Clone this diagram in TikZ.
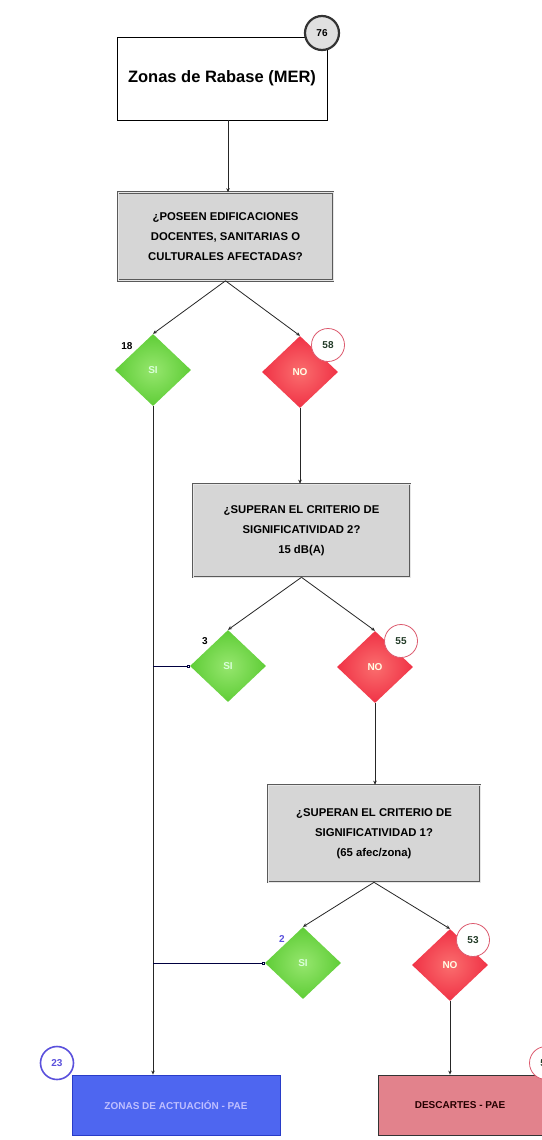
\documentclass[tikz,border=0pt]{standalone}
\usepackage{fontspec}
\setmainfont{Liberation Sans}
\usetikzlibrary{shapes.geometric,arrows.meta}
\definecolor{qgray}{RGB}{214,214,214}
\definecolor{qedge}{RGB}{90,90,90}
\definecolor{ygreen}{RGB}{95,205,55}
\definecolor{ygreenl}{RGB}{150,230,110}
\definecolor{nred}{RGB}{240,50,70}
\definecolor{nredl}{RGB}{250,110,110}
\definecolor{bbox}{RGB}{78,102,240}
\definecolor{bedge}{RGB}{40,60,200}
\definecolor{pbox}{RGB}{226,130,140}
\definecolor{cnum}{RGB}{35,60,40}
\definecolor{lblue}{RGB}{90,80,220}
\definecolor{ringred}{RGB}{220,90,110}
\begin{document}
\begin{tikzpicture}[x=1pt,y=-1pt,
  startbox/.style={draw=black,line width=0.8pt,fill=white,minimum width=210pt,minimum height=83pt,inner sep=0pt,font=\bfseries\fontsize{16.5}{18}\selectfont},
  qbox/.style={draw=qedge,double=qgray!60!white,double distance=1pt,line width=0.6pt,fill=qgray,minimum width=215pt,minimum height=88pt,inner sep=0pt,align=center,font=\bfseries\fontsize{11.3}{20}\selectfont},
  ydia/.style={diamond,draw=none,inner color=ygreenl,outer color=ygreen,minimum width=76pt,minimum height=72pt,inner sep=0pt,text=white!85!green,font=\bfseries\fontsize{10}{11}\selectfont},
  ndia/.style={diamond,draw=none,inner color=nredl,outer color=nred,minimum width=76pt,minimum height=72pt,inner sep=0pt,text=white!90!yellow,font=\bfseries\fontsize{10}{11}\selectfont},
  endbox/.style={draw=black!80,line width=0.8pt,minimum height=60pt,inner sep=0pt,font=\bfseries\fontsize{10}{11}\selectfont},
  cnt/.style={circle,fill=white,minimum size=33pt,inner sep=0pt,font=\bfseries\fontsize{10}{11}\selectfont},
  lbl/.style={inner sep=1pt,font=\bfseries\fontsize{10}{11}\selectfont},
  conn/.style={draw=black!85,line width=0.8pt,-{Stealth[length=4pt,width=3.5pt]}},
  joinc/.style={draw=black!75!blue,line width=0.8pt,{Square[open,length=3pt,width=3pt]}-}
]
\useasboundingbox (0,0) rectangle (541,1140);
\fill[white] (0,0) rectangle (541,1140);

% main boxes
\node[startbox] (mer) at (222,78.5) {Zonas de Rabase (MER)};
\node[qbox] (q1) at (225.5,236.5) {¿POSEEN EDIFICACIONES\\DOCENTES, SANITARIAS O\\CULTURALES AFECTADAS?};
\node[qbox,minimum width=217pt,minimum height=93pt] (q2) at (301.5,530.5) {¿SUPERAN EL CRITERIO DE\\SIGNIFICATIVIDAD 2?\\15 dB(A)};
\node[qbox,minimum width=212pt,minimum height=97pt] (q3) at (374,833.5) {¿SUPERAN EL CRITERIO DE\\SIGNIFICATIVIDAD 1?\\(65 afec/zona)};

% diamonds
\node[ydia] (y1) at (153,370) {SI};
\node[ndia] (n1) at (300,372) {NO};
\node[ydia] (y2) at (228,666) {SI};
\node[ndia] (n2) at (375,667) {NO};
\node[ydia] (y3) at (303,963) {SI};
\node[ndia] (n3) at (450,965) {NO};

% end boxes
\node[endbox,fill=bbox,draw=bedge,minimum width=208pt,text=white!75!blue] (pae) at (176,1105) {ZONAS DE ACTUACIÓN - PAE};
\node[endbox,fill=pbox,minimum width=164pt,text=black!85!red] (desc) at (460,1105) {DESCARTES - PAE};

% connectors
\coordinate (m1) at (228,0);
\draw[conn] (m1 |- mer.south) -- (m1 |- q1.north);
\draw[conn] (q1.south) -- (y1.north);
\draw[conn] (q1.south) -- (n1.north);
\draw[conn] (n1.south) -- (n1.south |- q2.north);
\draw[conn] (q2.south) -- (y2.north);
\draw[conn] (q2.south) -- (n2.north);
\draw[conn] (n2.south) -- (n2.south |- q3.north);
\draw[conn] (q3.south) -- (y3.north);
\draw[conn] (q3.south) -- (n3.north);
\draw[conn] (n3.south) -- (n3.south |- desc.north);
\draw[conn] (y1.south) -- (y1.south |- pae.north);
\coordinate (j2) at (y1.south |- y2.west);
\coordinate (j3) at (y1.south |- y3.west);
\draw[joinc] (y2.west) -- (j2);
\draw[joinc] (y3.west) -- (j3);

% counters
\node[cnt,draw=black!80,line width=2.2pt,fill=black!12,minimum size=34pt] (c76) at (322,33) {76};
\node[lbl] (c18) at (127,346) {18};
\node[cnt,draw=ringred,line width=0.8pt,text=cnum] (c58) at (328,345) {58};
\node[lbl] (c3) at (205,641) {3};
\node[cnt,draw=ringred,line width=0.8pt,text=cnum] (c55) at (401,641) {55};
\node[lbl,text=lblue] (c2) at (282,939) {2};
\node[cnt,draw=ringred,line width=0.8pt,text=cnum] (c53) at (473,940) {53};
\node[cnt,draw=lblue,line width=1.6pt,text=lblue] (c23) at (57,1063) {23};
\node[cnt,draw=ringred,line width=0.8pt,text=cnum] (c53b) at (546,1063) {53};
\end{tikzpicture}
\end{document}
